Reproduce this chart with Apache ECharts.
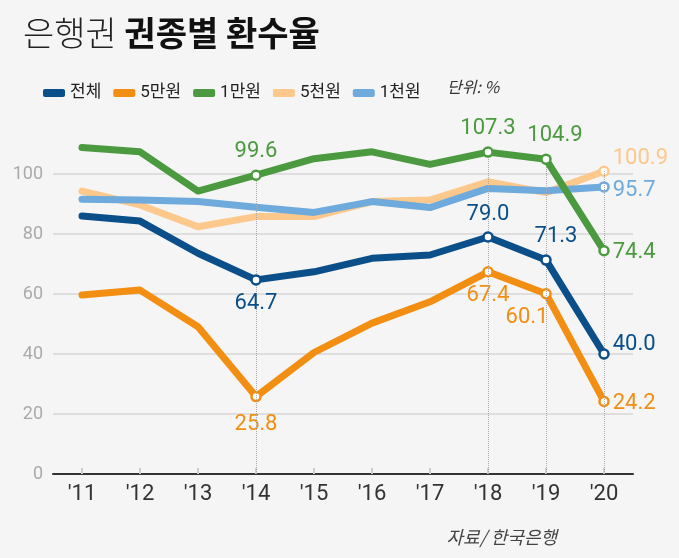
<!DOCTYPE html>
<html><head><meta charset="utf-8">
<script src="https://cdn.jsdelivr.net/npm/echarts@6/dist/echarts.min.js"></script>
<style>html,body{margin:0;padding:0;background:#f5f5f5;}#c{width:679px;height:558px;}</style>
</head><body><div id="c"></div>
<script>
var years = ["'11","'12","'13","'14","'15","'16","'17","'18","'19","'20"];
var total = [86.0, 84.3, 73.6, 64.7, 67.4, 71.9, 73.0, 79.0, 71.3, 40.0];
var man5  = [59.7, 61.3, 49.1, 25.8, 40.5, 50.3, 57.4, 67.4, 60.1, 24.2];
var man1  = [108.8, 107.4, 94.3, 99.6, 105.1, 107.4, 103.2, 107.3, 104.9, 74.4];
var cheon5 = [94.3, 89.7, 82.4, 85.8, 85.8, 90.8, 91.3, 97.4, 93.8, 100.9];
var cheon1 = [91.6, 91.3, 90.8, 88.9, 87.2, 90.8, 88.8, 95.2, 94.4, 95.7];
var yTicks = [0, 20, 40, 60, 80, 100];
var names = ['전체','5만원','1만원','5천원','1천원'];
var colors = {'전체':'#0b4f8a','5만원':'#f28e12','1만원':'#4b9a3f','5천원':'#fcc88b','1천원':'#6eaadb'};
var numFont = "Roboto,'Noto Sans CJK KR',sans-serif";
var krFont = "'Noto Sans CJK KR',sans-serif";

// label placements: index -> [position, offsetX, offsetY]
var labelSpec = {
  '전체':  {3:['bottom',0,2], 7:['top',0,-1], 8:['top',10,-2], 9:['right',-2,-10]},
  '5만원': {3:['bottom',0,6], 7:['bottom',0,2], 8:['bottom',-19,2], 9:['right',-2,2]},
  '1만원': {3:['top',0,-2], 7:['top',0,-2], 8:['top',9,-2], 9:['right',-2,2]},
  '5천원': {9:['right',-2,-13]},
  '1천원': {9:['right',-2,4]}
};
var dataMap = {'전체':total,'5만원':man5,'1만원':man1,'5천원':cheon5,'1천원':cheon1};
var zMap = {'5천원':2,'1천원':3,'5만원':4,'전체':5,'1만원':6};

function buildData(name){
  var arr = dataMap[name], spec = labelSpec[name], c = colors[name];
  return arr.map(function(v,i){
    var s = spec[i];
    if(!s) return {value:v, symbol:'none'};
    return {value:v, symbol:'circle', symbolSize:9,
      itemStyle:{color:'#fff', borderColor:c, borderWidth:2.5},
      label:{show:true, position:s[0], offset:[s[1],s[2]], distance:5,
        formatter:function(p){return p.value.toFixed(1);},
        color:c, fontSize:22, fontFamily:numFont}};
  });
}

var series = names.map(function(n){
  return {name:n, type:'line', data:buildData(n), z:zMap[n],
    lineStyle:{color:colors[n], width:7, cap:'round', join:'round'},
    itemStyle:{color:colors[n]}, emphasis:{disabled:true}, animation:false};
});
// dotted guides at labelled years, up to highest labelled point
var guideIdx = [3,7,8,9];
series.push({type:'line', data:[], z:1, animation:false,
  markLine:{symbol:'none', silent:true, label:{show:false},
    lineStyle:{color:'#aaa', type:'dotted', width:1},
    data: guideIdx.map(function(i){
      var top = Math.max(total[i],man5[i],man1[i],cheon5[i],cheon1[i]);
      return [{coord:[years[i],0]},{coord:[years[i],top]}];
    })}});

var chart = echarts.init(document.getElementById('c'));
chart.setOption({
  backgroundColor:'#f5f5f5',
  animation:false,
  title:{left:18, top:11, text:'{a|은행권 }{b|권종별 환수율}',
    textStyle:{rich:{
      a:{fontSize:34, fontWeight:300, color:'#222', fontFamily:krFont},
      b:{fontSize:34, fontWeight:'bold', color:'#111', fontFamily:krFont}}}},
  legend:{left:38, top:77, data:names, icon:'roundRect', itemWidth:22, itemHeight:8, itemGap:12,
    textStyle:{fontSize:17, color:'#222', fontFamily:numFont, lineHeight:22}},
  graphic:[
    {type:'text', left:447, top:79, style:{text:'단위: %', fill:'#333', font:"italic 16px "+krFont}},
    {type:'text', right:122, top:528, style:{text:'자료/ 한국은행', fill:'#444', font:"italic 18px "+krFont}}
  ],
  grid:{left:53, right:46, top:114, bottom:84},
  xAxis:{type:'category', data:years, boundaryGap:true,
    axisLine:{lineStyle:{color:'#333', width:2}},
    axisTick:{show:true, inside:true, alignWithLabel:true, length:6, lineStyle:{color:'#ccc', width:2}},
    axisLabel:{color:'#333', fontSize:22, margin:9, fontFamily:numFont}},
  yAxis:{type:'value', min:0, max:120, interval:20,
    axisLine:{show:false}, axisTick:{show:false},
    axisLabel:{color:'#aaa', fontSize:18, margin:10, fontFamily:numFont, showMaxLabel:false},
    splitLine:{lineStyle:{color:'#d6d6d6', width:1.5}, showMinLine:false, showMaxLine:false}},
  series:series
});
</script></body></html>
